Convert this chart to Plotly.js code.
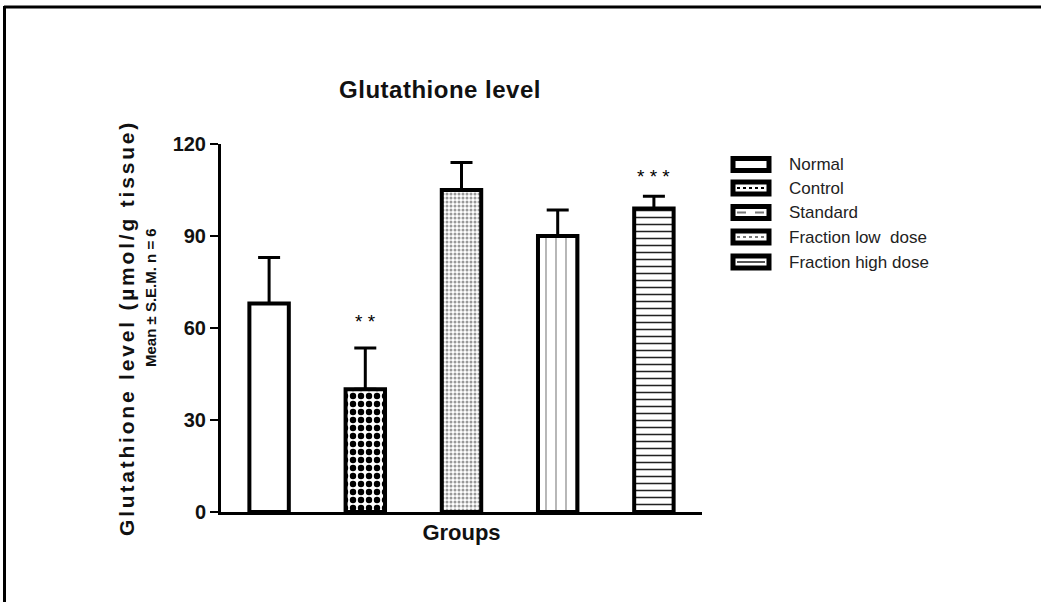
<!DOCTYPE html>
<html>
<head>
<meta charset="utf-8">
<script src="https://cdn.plot.ly/plotly-3.0.1.min.js"></script>
<style>html,body{margin:0;padding:0;background:#fff;}#chart{width:1041px;height:602px;}</style>
</head>
<body>
<div id="chart"></div>
<script>
// ---- data ----
const groups = ["Normal", "Control", "Standard", "Fraction low  dose", "Fraction high dose"];
const meanValues = [68, 40, 105, 90, 99];
const semValues = [15, 13.5, 9, 8.5, 4];
const significance = ["", "* *", "", "", "* * *"];
const starLevels = [0, 62, 0, 0, 109.5];
const yTicks = [0, 30, 60, 90, 120];

// ---- styles ----
const patShapes = ["", ".", ".", "|", "-"];
const patFg = ["#000", "#000", "#999", "#888", "#222"];
const patSize = [8, 8, 4, 10, 7];
const patSolid = [0.3, 0.5, 0.45, 0.12, 0.22];

// pixel helpers for plot area (l=221, r=702, t=144, b=512)
const L = 221, R = 702, T = 144, B = 512;
const px = v => (v - L) / (R - L);
const py = v => (B - v) / (B - T);
const FONT = "Liberation Sans, Arial, Helvetica, sans-serif";

const trace = {
  type: "bar",
  x: groups,
  y: meanValues,
  width: 0.41,
  marker: {
    color: "#fff",
    line: {color: "#000", width: 4},
    pattern: {shape: patShapes, fgcolor: patFg, bgcolor: "#fff", size: patSize, solidity: patSolid, fillmode: "replace"}
  },
  error_y: {type: "data", array: semValues, arrayminus: semValues.map(() => 0), symmetric: false,
            color: "#000", thickness: 3, width: 11},
  showlegend: false,
  hoverinfo: "x+y"
};

const annotations = [];
groups.forEach((g, i) => {
  if (significance[i]) {
    annotations.push({x: g, y: starLevels[i], xref: "x", yref: "y", text: significance[i],
      showarrow: false, font: {family: FONT, size: 19, color: "#000"}});
  }
});
// y-axis subtitle
annotations.push({xref: "paper", yref: "paper", x: px(150), y: py(298), text: "Mean ± S.E.M. n = 6",
  textangle: -90, showarrow: false, xanchor: "center", yanchor: "middle",
  font: {family: FONT, size: 15, color: "#111", weight: "bold"}});

// custom legend
const shapes = [];
const legY = [164.5, 188, 212.5, 237, 262];
const legInner = [null, "dot", "dash", "dot", "solid"];
const legInnerColor = ["#fff", "#000", "#777", "#777", "#555"];
groups.forEach((g, i) => {
  shapes.push({type: "rect", xref: "paper", yref: "paper", x0: px(733), x1: px(769),
    y0: py(legY[i] + 6), y1: py(legY[i] - 6), line: {color: "#000", width: 5}, fillcolor: "#fff"});
  if (legInner[i]) {
    shapes.push({type: "line", xref: "paper", yref: "paper", x0: px(737), x1: px(765),
      y0: py(legY[i]), y1: py(legY[i]), line: {color: legInnerColor[i], width: 2, dash: legInner[i]}});
  }
  annotations.push({xref: "paper", yref: "paper", x: px(787), y: py(legY[i]), text: g,
    showarrow: false, xanchor: "left", yanchor: "middle",
    font: {family: FONT, size: 17, color: "#222"}});
});
// outer frame (top and left)
shapes.push({type: "line", xref: "paper", yref: "paper", x0: px(4), x1: px(1041), y0: py(7), y1: py(7), line: {color: "#000", width: 3}});
shapes.push({type: "line", xref: "paper", yref: "paper", x0: px(4.5), x1: px(4.5), y0: py(6), y1: py(602), line: {color: "#000", width: 3}});

const layout = {
  width: 1041, height: 602,
  margin: {l: L, r: 1041 - R, t: T, b: 602 - B, pad: 0},
  paper_bgcolor: "#fff", plot_bgcolor: "#fff",
  title: {text: "Glutathione level", x: 440 / 1041, xref: "container", xanchor: "center",
          y: 1 - 90 / 602, yref: "container", yanchor: "middle",
          font: {family: FONT, size: 24, color: "#111", weight: "bold"}},
  xaxis: {type: "category", range: [-0.5, 4.5], showline: true, linecolor: "#000", linewidth: 3,
          showticklabels: false, ticks: "", showgrid: false, zeroline: false, fixedrange: true,
          title: {text: "Groups", standoff: 11, font: {family: FONT, size: 22, color: "#111", weight: "bold"}}},
  yaxis: {range: [0, 120], tickvals: yTicks, ticktext: yTicks.map(String), showline: true, linecolor: "#000", linewidth: 3,
          ticks: "outside", ticklen: 8, tickwidth: 2, tickcolor: "#000", showgrid: false, zeroline: false,
          tickfont: {family: FONT, size: 20, color: "#111", weight: "bold"},
          title: {text: "Glutathione level (µmol/g tissue)", standoff: 33,
                  font: {family: FONT, size: 21, color: "#111", weight: "bold"}}},
  showlegend: false,
  bargap: 0.59,
  shapes: shapes,
  annotations: annotations
};

Plotly.newPlot("chart", [trace], layout, {displayModeBar: false, staticPlot: true}).then(gd => {
  const yt = gd.querySelector(".g-ytitle text");
  if (yt) yt.style.letterSpacing = "2.8px";
  const tt = gd.querySelector(".g-gtitle text");
  if (tt) tt.style.letterSpacing = "0.5px";
});
</script>
</body>
</html>
